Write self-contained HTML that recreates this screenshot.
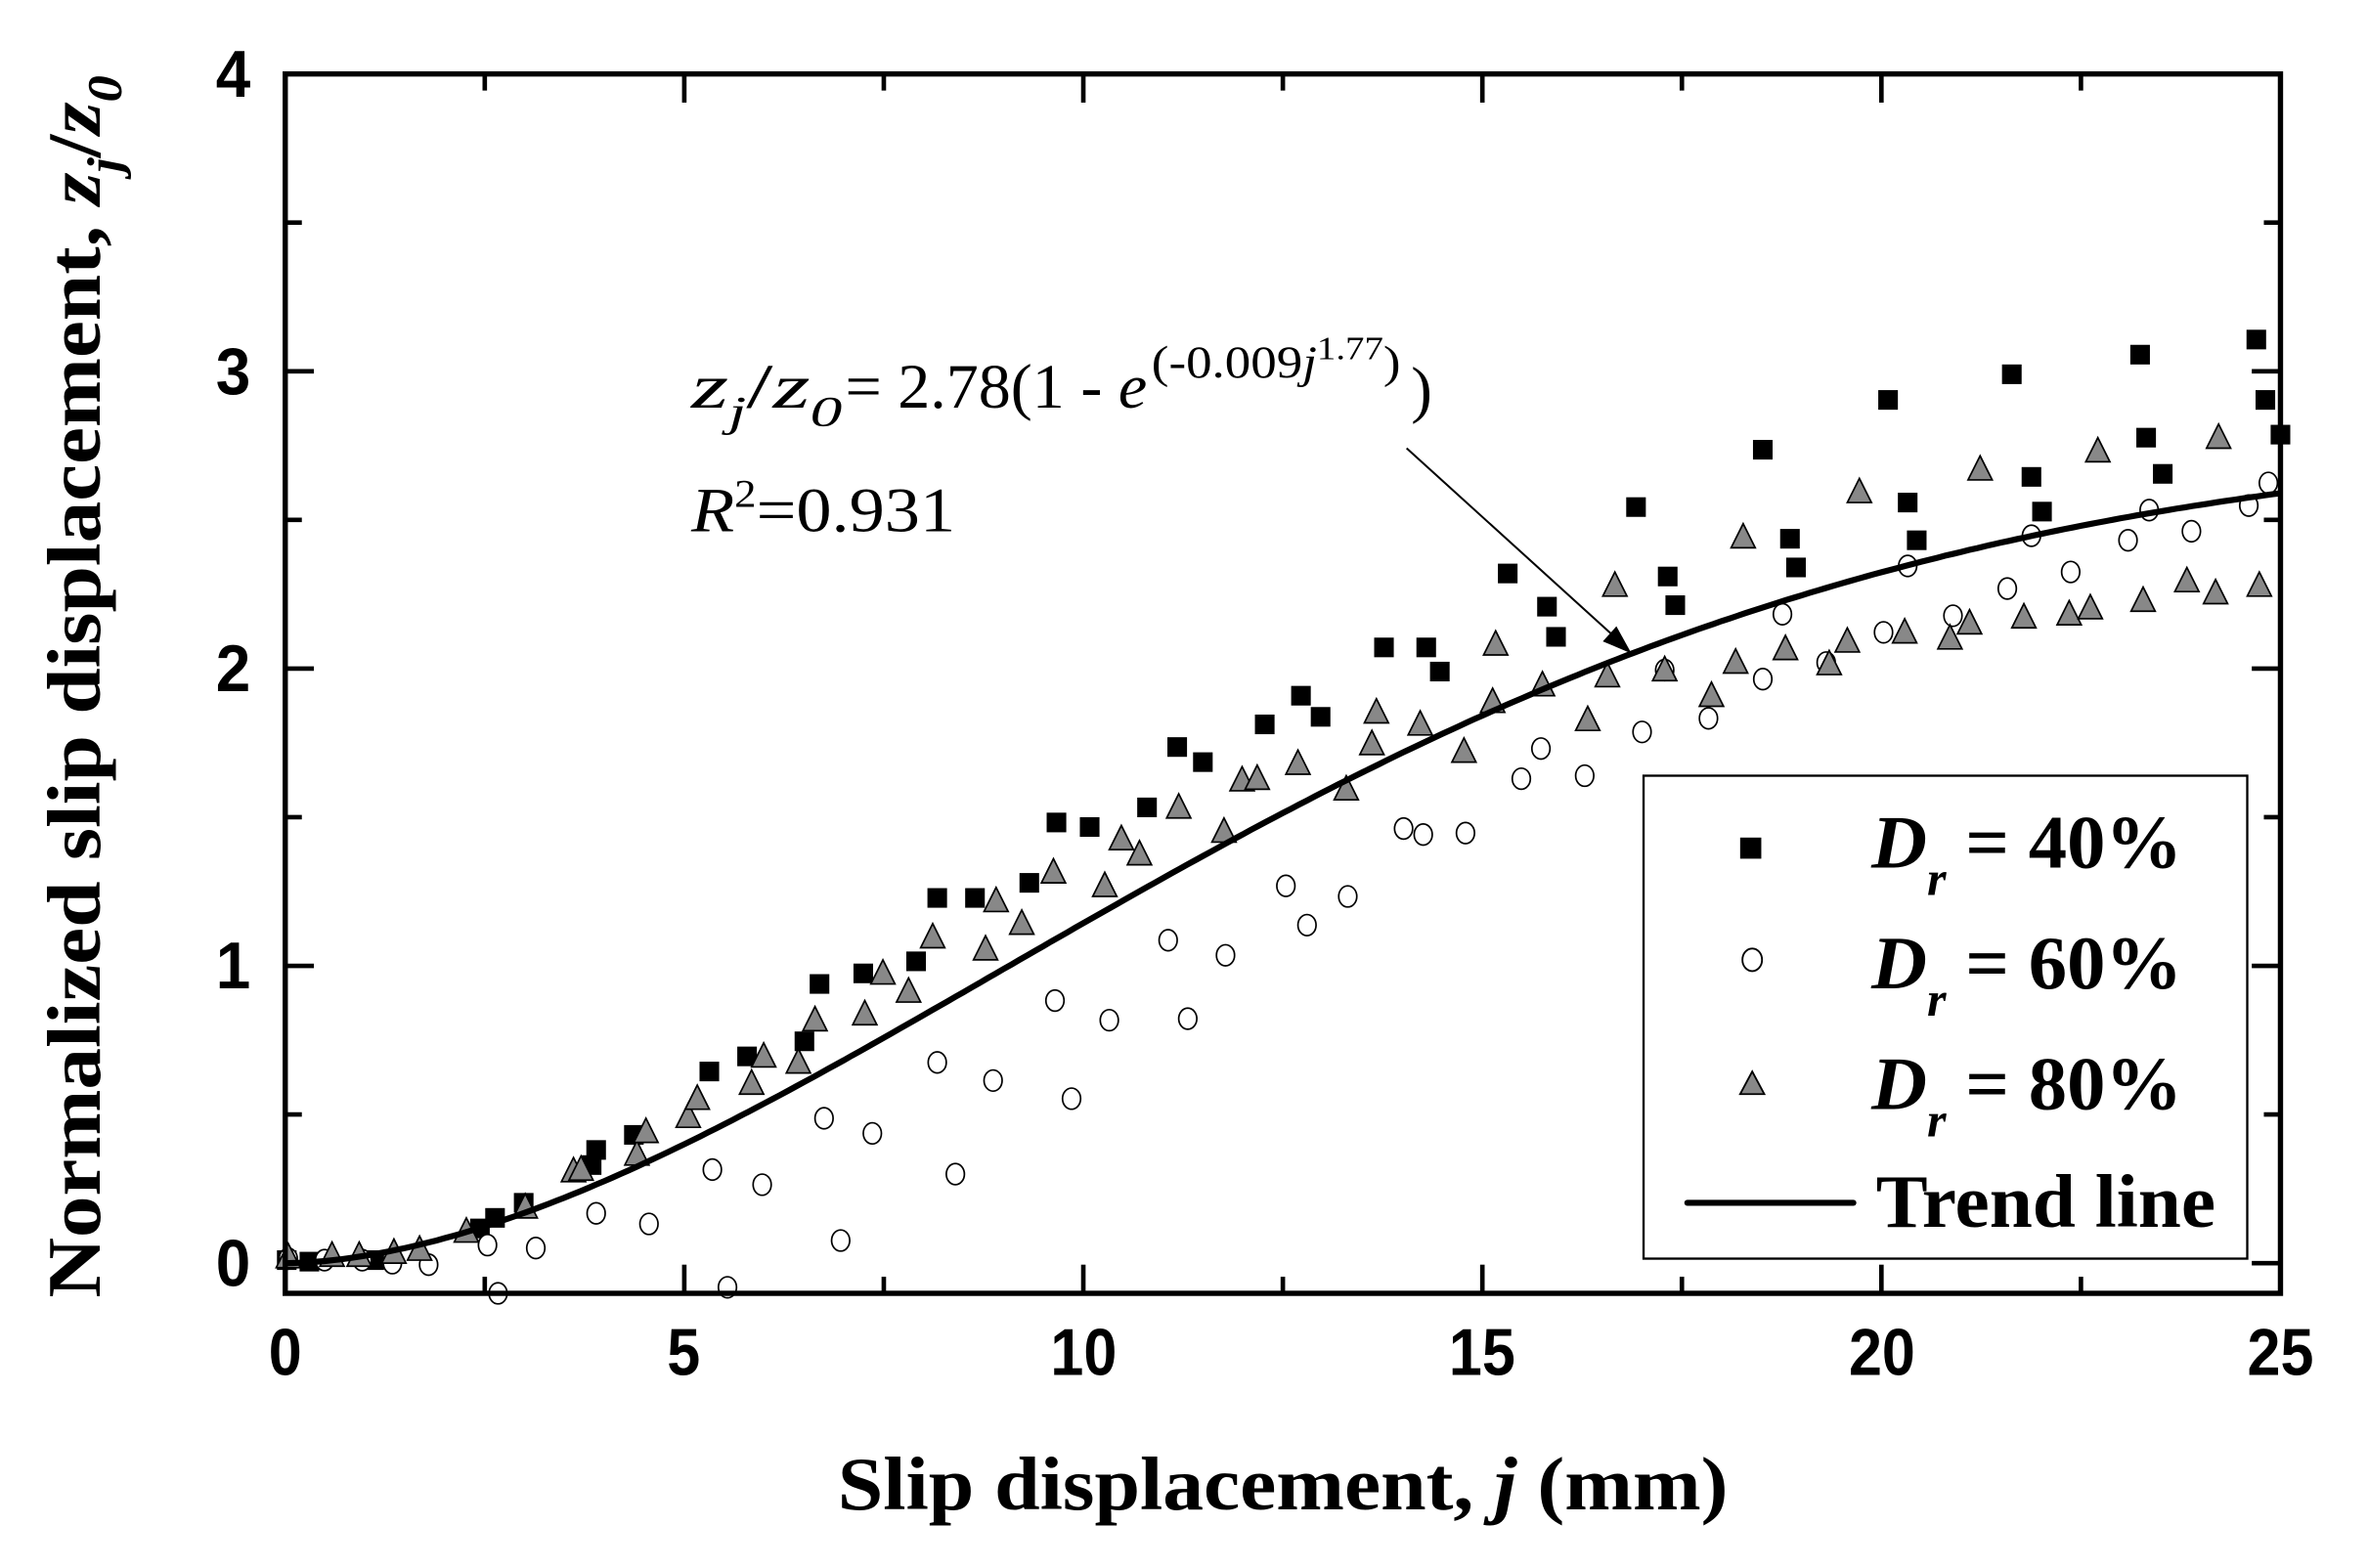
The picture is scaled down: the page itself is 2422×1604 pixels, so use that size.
<!DOCTYPE html>
<html><head><meta charset="utf-8"><style>
html,body{margin:0;padding:0;background:#fff;width:2422px;height:1604px;overflow:hidden}
svg{display:block}
.tk{font-family:"Liberation Sans",sans-serif;font-weight:bold;font-size:44px}
.ser{font-family:"Liberation Serif",serif}
</style></head><body>
<svg id="s" width="2422" height="1604" viewBox="0 0 1569 1039" preserveAspectRatio="none" xmlns="http://www.w3.org/2000/svg">
<rect width="1569" height="1039" fill="#fff"/>
<g id="ticks" stroke="#000" stroke-width="3"></g>
<g id="pts"></g>
<path id="trend" fill="none" stroke="#000" stroke-width="4"/>
<rect x="189" y="49" width="1322" height="808" fill="none" stroke="#000" stroke-width="3.5"/>
<g class="tk" text-anchor="middle">
<text x="189" y="911" textLength="22" lengthAdjust="spacingAndGlyphs">0</text>
<text x="453" y="911" textLength="22" lengthAdjust="spacingAndGlyphs">5</text>
<text x="718" y="911" textLength="44" lengthAdjust="spacingAndGlyphs">10</text>
<text x="982" y="911" textLength="44" lengthAdjust="spacingAndGlyphs">15</text>
<text x="1247" y="911" textLength="44" lengthAdjust="spacingAndGlyphs">20</text>
<text x="1511" y="911" textLength="44" lengthAdjust="spacingAndGlyphs">25</text>
</g>
<g class="tk" text-anchor="end">
<text x="166" y="852" textLength="23" lengthAdjust="spacingAndGlyphs">0</text>
<text x="166" y="655" textLength="23" lengthAdjust="spacingAndGlyphs">1</text>
<text x="166" y="458" textLength="23" lengthAdjust="spacingAndGlyphs">2</text>
<text x="166" y="261" textLength="23" lengthAdjust="spacingAndGlyphs">3</text>
<text x="166" y="64" textLength="23" lengthAdjust="spacingAndGlyphs">4</text>
</g>
<text class="ser" x="850" y="1000" text-anchor="middle" font-size="50" font-weight="bold" textLength="590" lengthAdjust="spacingAndGlyphs">Slip displacement, <tspan font-style="italic">j</tspan> (mm)</text>
<text class="ser" transform="translate(66,455) rotate(-90)" text-anchor="middle" font-size="50" font-weight="bold" textLength="810" lengthAdjust="spacingAndGlyphs">Normalized slip displacement, <tspan font-style="italic">z</tspan><tspan font-style="italic" font-size="32" dy="14">j</tspan><tspan dy="-14">/</tspan><tspan font-style="italic">z</tspan><tspan font-style="italic" font-size="32" dy="14">0</tspan></text>
<g class="ser" font-size="42">
<text x="458" y="270" textLength="100" lengthAdjust="spacingAndGlyphs"><tspan font-style="italic">z</tspan><tspan font-style="italic" font-size="28" dy="12">j</tspan><tspan dy="-12">/</tspan><tspan font-style="italic">z</tspan><tspan font-style="italic" font-size="28" dy="12">0</tspan></text>
<text x="560" y="270" textLength="200" lengthAdjust="spacingAndGlyphs">= 2.78(1 - <tspan font-style="italic">e</tspan></text>
<text x="763" y="250" font-size="30" textLength="165" lengthAdjust="spacingAndGlyphs">(-0.009<tspan font-style="italic">j</tspan><tspan font-size="22" dy="-12">1.77</tspan><tspan font-size="30" dy="12">)</tspan></text>
<text x="935" y="272" font-size="42">)</text>
<text x="458" y="352" textLength="175" lengthAdjust="spacingAndGlyphs"><tspan font-style="italic">R</tspan><tspan font-size="26" dy="-16">2</tspan><tspan dy="16">=0.931</tspan></text>
</g>
<line x1="932" y1="297" x2="1072" y2="424" stroke="#000" stroke-width="1.3"/>
<polygon points="1081,433 1062,425 1071,415" fill="#000"/>
<rect x="1089" y="514" width="400" height="320" fill="#fff" stroke="#000" stroke-width="1.5"/>
<rect x="1153" y="555" width="14" height="14" fill="#000"/>
<ellipse cx="1161" cy="636" rx="6.5" ry="7.5" fill="#fff" stroke="#000" stroke-width="1.2"/>
<polygon points="1153,725 1169,725 1161,710" fill="#888" stroke="#000" stroke-width="1.2"/>
<line x1="1118" y1="797" x2="1228" y2="797" stroke="#000" stroke-width="4" stroke-linecap="round"/>
<g class="ser" font-weight="bold" font-size="50">
<text x="1240" y="575" textLength="206" lengthAdjust="spacingAndGlyphs"><tspan font-style="italic">D</tspan><tspan font-style="italic" font-size="32" dy="18">r</tspan><tspan dy="-18"> = 40%</tspan></text>
<text x="1240" y="655" textLength="206" lengthAdjust="spacingAndGlyphs"><tspan font-style="italic">D</tspan><tspan font-style="italic" font-size="32" dy="18">r</tspan><tspan dy="-18"> = 60%</tspan></text>
<text x="1240" y="735" textLength="206" lengthAdjust="spacingAndGlyphs"><tspan font-style="italic">D</tspan><tspan font-style="italic" font-size="32" dy="18">r</tspan><tspan dy="-18"> = 80%</tspan></text>
<text x="1243" y="813" textLength="225" lengthAdjust="spacingAndGlyphs">Trend line</text>
</g>
</svg>
<script>
function X(v){return 189+v*52.88}function Y(v){return 837-v*197}
var t=document.getElementById("ticks"),h="";
for(var i=1;i<10;i++){var x=X(i*2.5),L=(i%2==0)?19:11;h+='<line x1="'+x+'" y1="857" x2="'+x+'" y2="'+(857-L)+'"/><line x1="'+x+'" y1="49" x2="'+x+'" y2="'+(49+L)+'"/>';}
for(var i=0;i<8;i++){var y=Y(i*0.5),L=(i%2==0)?19:11;h+='<line x1="189" y1="'+y+'" x2="'+(189+L)+'" y2="'+y+'"/><line x1="1511" y1="'+y+'" x2="'+(1511-L)+'" y2="'+y+'"/>';}
t.innerHTML=h;
var d="";for(var j=0;j<=25.001;j+=0.1){var v=2.78*(1-Math.exp(-0.009*Math.pow(j,1.77)));d+=(j==0?"M":"L")+X(j).toFixed(1)+","+Y(v).toFixed(1);}
document.getElementById("trend").setAttribute("d",d);
var sq=[[190,835],[205,836],[248,835],[318,814],[328,807],[347,797],[392,772],[395,762],[420,752],[470,710],[495,700],[533,690],[543,652],[572,645],[607,637],[621,595],[646,595],[682,585],[700,545],[722,548],[760,535],[780,495],[797,505],[838,480],[862,461],[875,475],[917,429],[945,429],[954,445],[999,380],[1025,402],[1031,422],[1084,336],[1105,382],[1110,401],[1168,298],[1186,357],[1190,376],[1251,265],[1264,333],[1270,358],[1333,248],[1346,316],[1353,339],[1418,235],[1422,290],[1433,314],[1495,225],[1501,265],[1511,288]];
var ci=[[191,834],[215,835],[240,835],[260,837],[284,838],[323,825],[330,857],[355,827],[395,804],[430,811],[472,775],[482,853],[505,785],[546,741],[557,822],[578,751],[621,704],[633,778],[658,716],[699,663],[710,728],[735,676],[774,623],[787,675],[812,633],[852,587],[866,613],[893,594],[930,549],[943,553],[971,552],[1008,516],[1021,496],[1050,514],[1088,485],[1103,444],[1132,476],[1168,450],[1181,407],[1210,439],[1248,419],[1264,375],[1294,408],[1330,390],[1346,355],[1372,379],[1410,358],[1424,338],[1452,352],[1490,335],[1503,320]];
var tr=[[191,833],[220,832],[238,832],[261,830],[278,828],[309,816],[348,800],[380,776],[385,775],[422,765],[428,750],[456,740],[462,728],[498,718],[506,700],[529,704],[540,676],[573,672],[585,645],[602,657],[618,621],[653,629],[660,597],[677,612],[698,578],[732,587],[743,556],[755,566],[781,535],[811,551],[823,517],[833,516],[860,506],[892,523],[909,493],[912,472],[941,480],[970,498],[989,465],[991,427],[1022,454],[1052,477],[1065,448],[1070,388],[1103,444],[1134,461],[1150,439],[1155,356],[1183,430],[1212,440],[1224,425],[1232,326],[1262,419],[1292,423],[1305,413],[1312,311],[1341,409],[1371,407],[1385,403],[1390,299],[1420,398],[1449,385],[1468,393],[1470,290],[1497,388]];
var p="";
sq.forEach(function(a){p+='<rect x="'+(a[0]-6.5)+'" y="'+(a[1]-6.5)+'" width="13" height="13" fill="#000"/>';});
ci.forEach(function(a){p+='<ellipse cx="'+a[0]+'" cy="'+a[1]+'" rx="6" ry="7" fill="#fff" stroke="#000" stroke-width="1.1"/>';});
tr.forEach(function(a){p+='<polygon points="'+(a[0]-8)+','+(a[1]+7)+' '+(a[0]+8)+','+(a[1]+7)+' '+a[0]+','+(a[1]-9)+'" fill="#888" stroke="#000" stroke-width="1.1"/>';});
document.getElementById("pts").innerHTML=p;
</script>
</body></html>
